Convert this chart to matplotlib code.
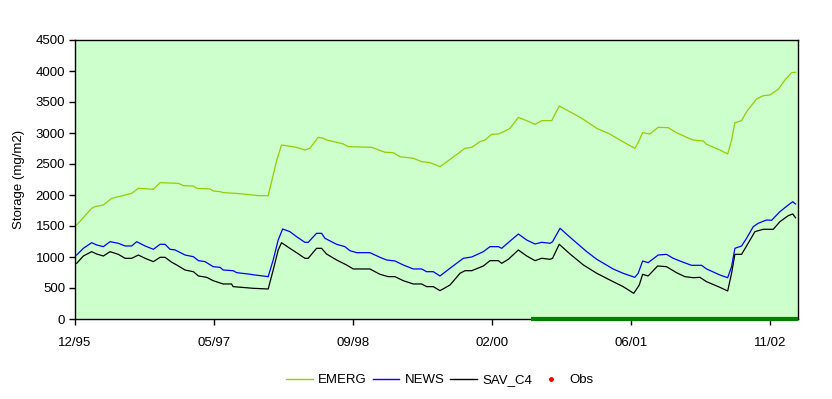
import datetime as dt
import matplotlib
matplotlib.use("Agg")
import matplotlib.pyplot as plt
from matplotlib.lines import Line2D

# Storage series, x as days after 1995-12-31
start = dt.datetime(1995, 12, 31)

emerg_day = [6, 60, 72, 102, 132, 156, 204, 228, 282, 306, 372, 390, 426, 438, 486,
             497, 522, 533, 576, 618, 659, 695, 726, 743, 797, 827, 845, 875, 893, 905,
             941, 965, 983, 1067, 1115, 1145, 1169, 1217, 1247, 1277, 1313, 1343, 1379,
             1403, 1427, 1457, 1475, 1499, 1523, 1535, 1565, 1595, 1625, 1655, 1679, 1715,
             1742, 1769, 1823, 1877, 1924, 1960, 2014, 2026, 2042, 2068, 2098, 2134, 2164,
             2200, 2224, 2260, 2272, 2320, 2348, 2362, 2374, 2398, 2416, 2452, 2476, 2500,
             2530, 2554, 2578, 2592]
emerg_val = [1516, 1785, 1812, 1839, 1946, 1973, 2027, 2108, 2092, 2199, 2188, 2151, 2145,
             2108, 2097, 2065, 2054, 2038, 2027, 2011, 1989, 1989, 2565, 2807, 2769, 2726,
             2753, 2931, 2915, 2887, 2850, 2823, 2780, 2769, 2689, 2683, 2618, 2592, 2538,
             2522, 2457, 2554, 2673, 2753, 2769, 2860, 2887, 2979, 2985, 3005, 3075, 3253,
             3199, 3140, 3199, 3199, 3436, 3371, 3237, 3075, 2984, 2887, 2753, 2844, 3005,
             2984, 3092, 3086, 3005, 2931, 2887, 2871, 2818, 2726, 2662, 2887, 3167, 3199,
             3344, 3549, 3602, 3613, 3705, 3855, 3973, 3979]

news_day = [6, 30, 60, 78, 102, 126, 156, 180, 204, 222, 252, 282, 306, 324, 342, 360, 396,
            426, 444, 468, 497, 522, 533, 569, 582, 623, 647, 695, 713, 731, 747, 773, 797,
            827, 839, 869, 887, 899, 941, 971, 989, 1013, 1061, 1097, 1121, 1151, 1181, 1217,
            1247, 1265, 1289, 1313, 1349, 1397, 1427, 1469, 1493, 1523, 1535, 1553, 1595,
            1625, 1655, 1679, 1709, 1718, 1745, 1781, 1841, 1877, 1936, 1972, 2014, 2026,
            2042, 2062, 2098, 2128, 2152, 2188, 2218, 2254, 2272, 2320, 2348, 2362, 2374,
            2398, 2416, 2440, 2458, 2488, 2506, 2536, 2566, 2582, 2592]
news_val = [1032, 1140, 1231, 1194, 1167, 1247, 1221, 1178, 1178, 1247, 1178, 1124, 1205,
            1205, 1124, 1114, 1032, 1005, 941, 925, 844, 833, 790, 779, 747, 726, 710, 683,
            952, 1274, 1452, 1409, 1328, 1237, 1237, 1382, 1382, 1302, 1205, 1167, 1102, 1070,
            1070, 995, 952, 936, 871, 807, 807, 763, 763, 694, 818, 979, 1000, 1086, 1167,
            1167, 1140, 1210, 1371, 1274, 1210, 1237, 1221, 1247, 1463, 1318, 1086, 963, 807,
            737, 672, 737, 935, 909, 1032, 1043, 979, 915, 866, 866, 807, 710, 666, 844, 1140,
            1178, 1302, 1489, 1544, 1597, 1592, 1731, 1839, 1892, 1855]

sav_day = [6, 30, 60, 78, 102, 126, 156, 180, 204, 228, 252, 282, 306, 324, 348, 366, 396,
           426, 444, 474, 497, 533, 563, 569, 612, 641, 695, 713, 731, 743, 773, 797, 827,
           839, 869, 887, 905, 941, 977, 1001, 1061, 1097, 1127, 1151, 1181, 1217, 1247,
           1265, 1289, 1313, 1349, 1385, 1403, 1427, 1469, 1493, 1523, 1535, 1559, 1595,
           1625, 1655, 1679, 1709, 1718, 1742, 1781, 1829, 1877, 1936, 1972, 2010, 2030,
           2042, 2062, 2096, 2128, 2164, 2194, 2224, 2248, 2272, 2320, 2348, 2362, 2374,
           2398, 2416, 2446, 2476, 2512, 2536, 2566, 2582, 2592]
sav_val = [898, 1016, 1086, 1048, 1016, 1086, 1043, 979, 979, 1032, 979, 925, 995, 995, 915,
           871, 790, 763, 694, 672, 618, 565, 565, 522, 506, 495, 484, 790, 1113, 1231, 1140,
           1070, 979, 979, 1140, 1140, 1048, 952, 871, 807, 807, 721, 683, 683, 618, 565, 565,
           522, 522, 457, 548, 737, 779, 779, 855, 941, 941, 898, 963, 1113, 1016, 941, 979,
           963, 979, 1205, 1048, 871, 737, 602, 522, 414, 548, 721, 694, 855, 844, 747, 683,
           666, 672, 602, 511, 452, 737, 1043, 1043, 1178, 1409, 1447, 1447, 1570, 1667, 1694,
           1634]

# thick dark green strip sitting on the zero line
strip_day = [1640, 2601]
strip_val = [0, 0]

tick_labels = ["12/95", "05/97", "09/98", "02/00", "06/01", "11/02"]
tick_day = [0, 500, 1000, 1500, 2000, 2500]
x_end_day = 2601


def to_dates(days):
    return [start + dt.timedelta(days=d) for d in days]


plt.rcParams['font.family'] = ['Liberation Sans', 'DejaVu Sans']

fig = plt.figure(figsize=(8.32, 3.99), dpi=100)
ax = fig.add_axes([75 / 832, 1 - 319 / 399, (798 - 75) / 832, (319 - 40) / 399])
ax.set_facecolor("#CCFFCC")

ax.plot(to_dates(emerg_day), emerg_val, color="#99CC00", lw=0.9)
ax.plot(to_dates(news_day), news_val, color="#0000FF", lw=0.9)
ax.plot(to_dates(sav_day), sav_val, color="black", lw=0.9)
ax.plot(to_dates(strip_day), strip_val, color="#008000", lw=3, clip_on=False,
        solid_capstyle="butt", zorder=5)

ax.set_xlim(start, start + dt.timedelta(days=x_end_day))
ax.set_ylim(0, 4500)
ax.set_yticks(range(0, 4501, 500))
ax.set_xticks(to_dates(tick_day))
ax.set_xticklabels(tick_labels)
ax.tick_params(axis="both", direction="out", length=4, width=1, labelsize=9.5,
               colors="black")
ax.tick_params(axis="x", pad=9)
ax.tick_params(axis="y", pad=3)
for s in ax.spines.values():
    s.set_color("black")
    s.set_linewidth(1)

ax.set_ylabel("Storage (mg/m2)", fontsize=9.5, labelpad=8)

handles = [
    Line2D([], [], color="#99CC00", lw=1),
    Line2D([], [], color="#0000FF", lw=1),
    Line2D([], [], color="black", lw=1),
    Line2D([], [], color="red", marker="o", markersize=2.5, lw=0),
]
fig.legend(handles, ["EMERG", "NEWS", "SAV_C4", "Obs"], loc="center",
           bbox_to_anchor=(440 / 832, 1 - 380 / 399), ncol=4, frameon=False,
           fontsize=9.5, handlelength=2.0, handletextpad=0.4, columnspacing=0.45)

fig.savefig("out.png", dpi=100)
